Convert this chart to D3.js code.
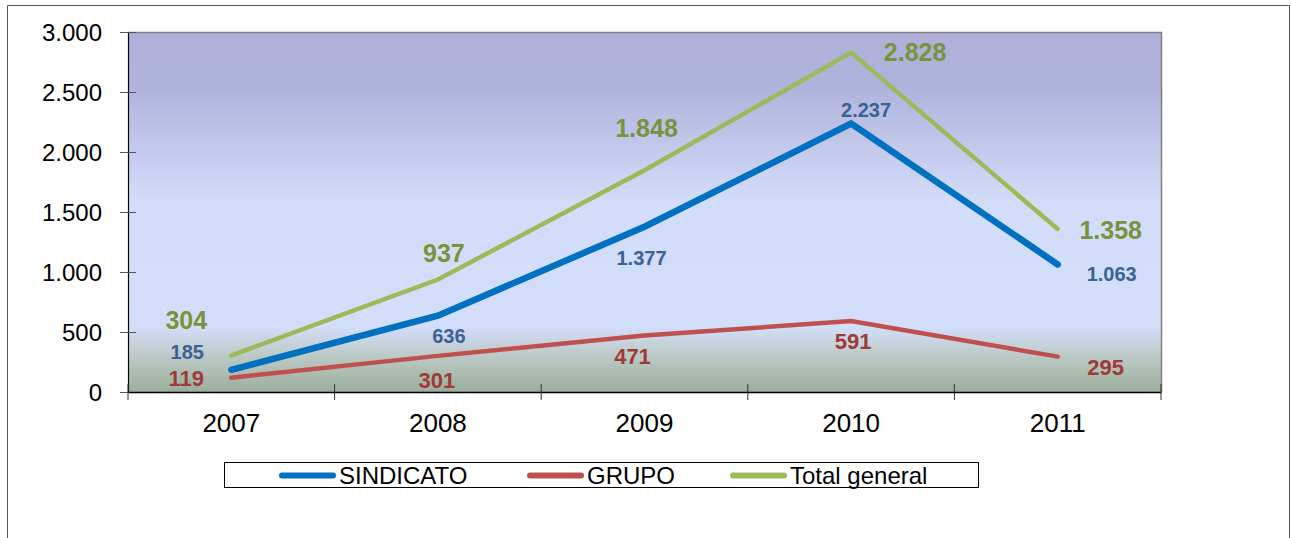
<!DOCTYPE html>
<html>
<head>
<meta charset="utf-8">
<script src="https://cdn.jsdelivr.net/npm/d3@7"></script>
<style>
  html, body { margin: 0; padding: 0; background: #fff; }
  svg { display: block; font-family: "Liberation Sans", Arial, sans-serif; }
</style>
</head>
<body>
<svg id="chart" width="1291" height="538"></svg>
<script>
// --- data ---
const years = ["2007", "2008", "2009", "2010", "2011"];
const sindicato = [185, 636, 1377, 2237, 1063];
const grupo = [119, 301, 471, 591, 295];
const totalGeneral = [304, 937, 1848, 2828, 1358];
const yTicks = [0, 500, 1000, 1500, 2000, 2500, 3000];

// label offsets (px) relative to each point, per series
const series = [
  { name: "SINDICATO", values: sindicato, color: "#0070c0", width: 6.5, label: "#3a6296", size: 20,
    off: [[-44, -18], [11, 20], [-3, 31], [15, -14], [54, 10]] },
  { name: "GRUPO", values: grupo, color: "#c0504d", width: 4.5, label: "#a03a37", size: 22,
    off: [[-45, 1], [-1, 24], [-12, 21], [2, 20], [48, 11]] },
  { name: "Total general", values: totalGeneral, color: "#9bbb59", width: 4.5, label: "#77933c", size: 25,
    off: [[-45, -35], [6, -26], [2, -42], [64, 0], [53, 1]] },
];

const fmt = (v) => d3.format(",")(v).replace(/,/g, ".");

const svg = d3.select("#chart");
const m = { l: 128, t: 32, r: 1161, b: 392 };

// outer frame
svg.append("path").attr("d", "M7.5,538 V5.5 H1289.5 V538")
  .attr("fill", "none").attr("stroke", "#555").attr("stroke-width", 1);

const x = d3.scaleBand().domain(years).range([m.l, m.r]);
const y = d3.scaleLinear().domain([0, 3000]).range([m.b, m.t]);

// plot background gradient
const grad = svg.append("defs").append("linearGradient")
  .attr("id", "bg").attr("x1", 0).attr("y1", 0).attr("x2", 0).attr("y2", 1);
[[0, "#aeb0d9"], [0.15, "#b0b3db"], [0.47, "#d2ddfa"], [0.82, "#d3defa"], [0.9, "#bccac6"], [1, "#9bae9b"]]
  .forEach(([o, c]) => grad.append("stop").attr("offset", o).attr("stop-color", c));

svg.append("rect").attr("x", m.l).attr("y", m.t)
  .attr("width", m.r - m.l).attr("height", m.b - m.t).attr("fill", "url(#bg)");
// top/right border of plot
svg.append("path").attr("d", `M${m.l},${m.t + 0.5} H${m.r + 0.5} V${m.b}`)
  .attr("fill", "none").attr("stroke", "#808080").attr("stroke-width", 1.5);

// y axis
const yAxis = svg.append("g").attr("transform", `translate(${m.l},0)`)
  .call(d3.axisLeft(y).tickValues(yTicks).tickFormat(fmt).tickSize(0))
  .attr("font-family", null).attr("font-size", null);
yAxis.select(".domain").attr("stroke", "#000").attr("stroke-width", 1.2);
yAxis.selectAll(".tick line").attr("x1", -8).attr("x2", 8).attr("stroke", "#555");
yAxis.selectAll(".tick text").attr("x", -26).attr("dy", "0.35em")
  .style("font-size", "24px").attr("fill", "#000");

// x axis
const xAxis = svg.append("g").attr("transform", `translate(0,${m.b})`)
  .call(d3.axisBottom(x).tickSize(0))
  .attr("font-family", null).attr("font-size", null);
xAxis.select(".domain").attr("stroke", "#000").attr("stroke-width", 1.5);
xAxis.selectAll(".tick text").attr("y", 31).attr("dy", "0.35em")
  .style("font-size", "26px").attr("fill", "#000");
const bounds = [...years.map((d) => x(d)), m.r];
xAxis.selectAll("line.bound").data(bounds).enter().append("line")
  .attr("class", "bound").attr("x1", (d) => d).attr("x2", (d) => d)
  .attr("y1", -8).attr("y2", 8).attr("stroke", "#333");

// lines
const cx = (i) => x(years[i]) + x.bandwidth() / 2;
const line = d3.line().x((d, i) => cx(i)).y((d) => y(d));
series.forEach((s) => {
  svg.append("path").datum(s.values).attr("d", line)
    .attr("fill", "none").attr("stroke", s.color).attr("stroke-width", s.width)
    .attr("stroke-linecap", "round").attr("stroke-linejoin", "miter");
});

// data labels
series.forEach((s) => {
  svg.append("g").selectAll("text").data(s.values).enter().append("text")
    .attr("x", (d, i) => cx(i) + s.off[i][0])
    .attr("y", (d, i) => y(d) + s.off[i][1])
    .attr("text-anchor", "middle").attr("dy", "0.35em")
    .style("font-size", s.size + "px").style("font-weight", "bold")
    .attr("fill", s.label).text(fmt);
});

// legend
const lg = svg.append("g");
lg.append("rect").attr("x", 224.5).attr("y", 462.5).attr("width", 754).attr("height", 25)
  .attr("fill", "#fff").attr("stroke", "#000").attr("stroke-width", 1);
const legX = [282, 530, 733];
series.forEach((s, i) => {
  lg.append("line").attr("x1", legX[i]).attr("x2", legX[i] + 51)
    .attr("y1", 475.5).attr("y2", 475.5).attr("stroke", s.color).attr("stroke-width", 6)
    .attr("stroke-linecap", "round");
  lg.append("text").attr("x", legX[i] + 57).attr("y", 475.5).attr("dy", "0.35em")
    .style("font-size", "24px").attr("fill", "#000").text(s.name);
});
</script>
</body>
</html>
